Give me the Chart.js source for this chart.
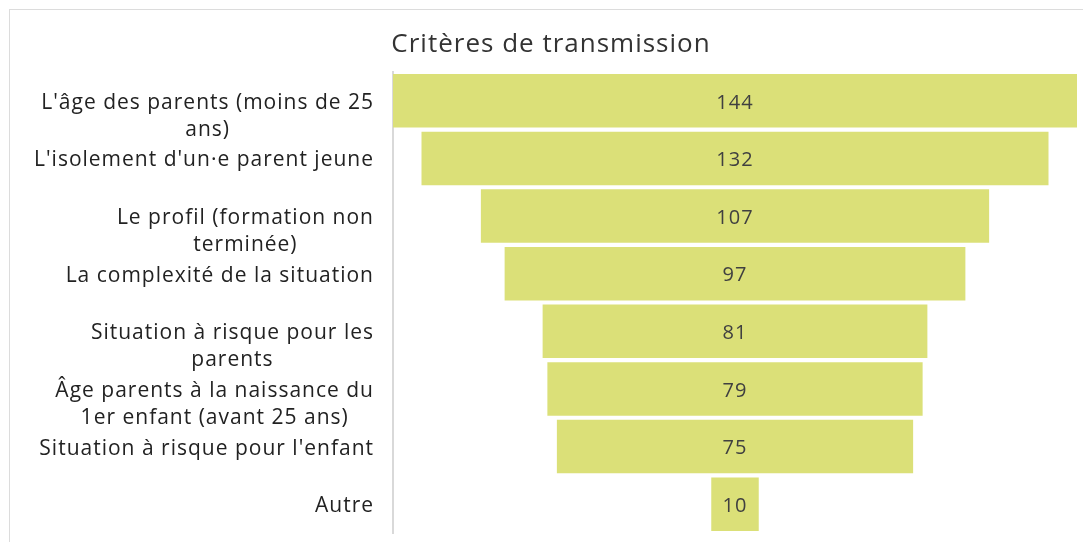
<!DOCTYPE html>
<html>
<head>
<meta charset="utf-8">
<script src="https://cdn.jsdelivr.net/npm/chart.js@4"></script>
<style>
  body { margin: 0; overflow: hidden; background: #fff; }
  #card { position: absolute; left: 9px; top: 9px; width: 1083px; height: 560px; border: 1px solid #dcdcdc; }
  #chart { display: block; }
</style>
</head>
<body>
<div id="card"><canvas id="chart" width="1082" height="532"></canvas></div>
<script>
// Data
const categories = [
  ["L'âge des parents (moins de 25", "ans)"],
  ["L'isolement d'un·e parent jeune"],
  ["Le profil (formation non", "terminée)"],
  ["La complexité de la situation"],
  ["Situation à risque pour les", "parents"],
  ["Âge parents à la naissance du", "1er enfant (avant 25 ans)"],
  ["Situation à risque pour l'enfant"],
  ["Autre"]
];
const counts = [144, 132, 107, 97, 81, 79, 75, 10];

const barColor = "#dbe078";
const fontFamily = "'Open Sans', sans-serif";

// Funnel: each bar centred on zero
const maxCount = Math.max(...counts);
const funnelData = counts.map((v) => [-v / 2, v / 2]);

// Title, category labels and values drawn by hand (letter spacing, centred lines)
const labelPlugin = {
  id: "funnelLabels",
  afterDraw(chart) {
    const ctx = chart.ctx;
    const yScale = chart.scales.y;
    const right = chart.chartArea.left - 19;
    ctx.save();
    ctx.textBaseline = "middle";
    ctx.textAlign = "center";

    ctx.font = "26px " + fontFamily;
    ctx.letterSpacing = "1px";
    ctx.fillStyle = "#333";
    ctx.fillText("Critères de transmission", chart.width / 2, 35);

    ctx.font = "21px " + fontFamily;
    ctx.letterSpacing = "1px";
    ctx.fillStyle = "#222";
    categories.forEach((lines, i) => {
      const y = yScale.getPixelForValue(i);
      const blockW = Math.max(...lines.map((l) => ctx.measureText(l).width));
      const cx = right - blockW / 2;
      lines.forEach((line, j) => {
        ctx.fillText(line, cx, y + 2 + j * 27);
      });
    });

    // value labels in the bars
    ctx.font = "20px " + fontFamily;
    const meta = chart.getDatasetMeta(0);
    ctx.fillStyle = "#404040";
    meta.data.forEach((bar, i) => {
      ctx.fillText(String(counts[i]), bar.x - bar.width / 2, bar.y + 2);
    });
    ctx.restore();
  }
};

const ctx = document.getElementById("chart").getContext("2d");
new Chart(ctx, {
  type: "bar",
  data: {
    labels: categories.map((c) => c.join(" ")),
    datasets: [{
      data: funnelData,
      backgroundColor: barColor,
      borderWidth: 0,
      barPercentage: 0.93,
      categoryPercentage: 1
    }]
  },
  options: {
    indexAxis: "y",
    responsive: false,
    animation: false,
    layout: { padding: { left: 0, right: 15, top: 62, bottom: 9 } },
    plugins: {
      legend: { display: false },
      tooltip: { enabled: false },
      title: { display: false }
    },
    scales: {
      x: {
        display: false,
        min: -maxCount / 2,
        max: maxCount / 2
      },
      y: {
        grid: { display: false },
        border: { display: true, color: "#d9d9d9", width: 2 },
        ticks: { display: false },
        afterFit(scale) { scale.width = 383; }
      }
    }
  },
  plugins: [labelPlugin]
});
</script>
</body>
</html>
